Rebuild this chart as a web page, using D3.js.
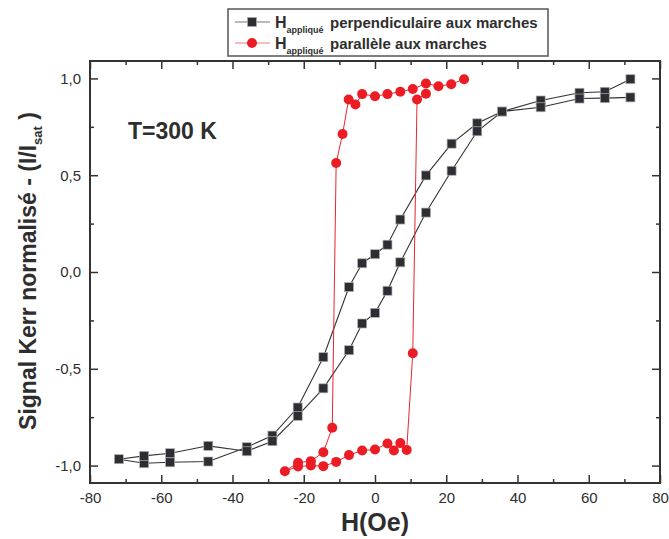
<!DOCTYPE html>
<html>
<head>
<meta charset="utf-8">
<script src="https://cdn.jsdelivr.net/npm/d3@7"></script>
<style>
  html, body { margin: 0; padding: 0; background: #fff; }
  svg { display: block; }
  text { font-family: "Liberation Sans", Arial, sans-serif; fill: #2e2e2e; }
</style>
</head>
<body>
<svg id="chart" width="669" height="539"></svg>
<script>
// ---- data ----
const perpH = [71.7, 64.5, 57.4, 46.5, 35.7, 28.7, 21.5, 14.3, 7.1, 3.5, 0, -3.6, -7.3, -14.5, -21.7, -28.8, -36.0, -46.8, -57.5, -64.8, -71.9,
               -64.8, -57.5, -46.8, -36.0, -28.8, -21.7, -14.5, -7.3, -3.6, 0, 3.5, 7.1, 14.3, 21.5, 28.7, 35.7, 46.5, 57.4, 64.5, 71.7];
const perpV = [0.996, 0.931, 0.926, 0.886, 0.829, 0.768, 0.663, 0.499, 0.271, 0.141, 0.092, 0.045, -0.078, -0.440, -0.700, -0.845, -0.905, -0.979, -0.983, -0.988, -0.967,
               -0.950, -0.936, -0.898, -0.926, -0.874, -0.743, -0.601, -0.404, -0.266, -0.211, -0.097, 0.050, 0.307, 0.523, 0.727, 0.829, 0.851, 0.896, 0.898, 0.902];

const paraH = [25.0, 21.4, 17.8, 14.3, 10.6, 7.1, 3.5, 0, -3.6, -5.5, -7.4, -9.1, -10.9, -12.0, -14.5, -18.0, -21.6, -25.3,
               -21.6, -18.0, -14.5, -10.9, -7.3, -3.6, 0, 3.5, 5.3, 7.1, 8.9, 10.6, 11.8, 14.3];
const paraV = [0.996, 0.970, 0.960, 0.974, 0.945, 0.931, 0.919, 0.908, 0.919, 0.865, 0.891, 0.713, 0.563, -0.805, -0.931, -0.977, -0.985, -1.029,
               -1.005, -1.000, -1.003, -0.981, -0.946, -0.922, -0.917, -0.886, -0.922, -0.884, -0.919, -0.420, 0.891, 0.921];

const xMajor = [-80, -60, -40, -20, 0, 20, 40, 60, 80];
const xMinor = [-70, -50, -30, -10, 10, 30, 50, 70];
const yMajor = [-1.0, -0.5, 0.0, 0.5, 1.0];
const yMinor = [-0.75, -0.25, 0.25, 0.75];

const seriesNames = ["perpendiculaire aux marches", "parallèle aux marches"];
const subLabel = "appliqué";
const annotation = "T=300 K";
const xTitle = "H(Oe)";

// ---- layout ----
const svg = d3.select("#chart");
const L = 90, R = 660, T = 61, B = 483;
const x = d3.scaleLinear().domain([-80, 80]).range([L, R]);
const y = d3.scaleLinear().domain([-1.09, 1.09]).range([B, T]);
const axisColor = "#333";
const fmtY = d => d.toFixed(1).replace(".", ",");
const fmtX = d => String(d);

function styleAxis(g) {
  g.select(".domain").remove();
  g.selectAll("line").attr("stroke", axisColor).attr("stroke-width", 1.5);
  g.selectAll("text").style("font-size", "15px").attr("fill", "#333");
}

// bottom
svg.append("g").attr("transform", `translate(0,${B})`)
  .call(d3.axisBottom(x).tickValues(xMajor).tickSize(-8).tickPadding(9).tickFormat(fmtX))
  .call(styleAxis);
svg.append("g").attr("transform", `translate(0,${B})`)
  .call(d3.axisBottom(x).tickValues(xMinor).tickSize(-4).tickFormat(""))
  .call(styleAxis);
// top
svg.append("g").attr("transform", `translate(0,${T})`)
  .call(d3.axisTop(x).tickValues(xMajor).tickSize(-8).tickFormat(""))
  .call(styleAxis);
svg.append("g").attr("transform", `translate(0,${T})`)
  .call(d3.axisTop(x).tickValues(xMinor).tickSize(-4).tickFormat(""))
  .call(styleAxis);
// left
svg.append("g").attr("transform", `translate(${L},0)`)
  .call(d3.axisLeft(y).tickValues(yMajor).tickSize(-8).tickPadding(9).tickFormat(fmtY))
  .call(styleAxis);
svg.append("g").attr("transform", `translate(${L},0)`)
  .call(d3.axisLeft(y).tickValues(yMinor).tickSize(-4).tickFormat(""))
  .call(styleAxis);
// right
svg.append("g").attr("transform", `translate(${R},0)`)
  .call(d3.axisRight(y).tickValues(yMajor).tickSize(-8).tickFormat(""))
  .call(styleAxis);
svg.append("g").attr("transform", `translate(${R},0)`)
  .call(d3.axisRight(y).tickValues(yMinor).tickSize(-4).tickFormat(""))
  .call(styleAxis);

// frame
svg.append("rect").attr("x", L).attr("y", T).attr("width", R - L).attr("height", B - T)
  .attr("fill", "none").attr("stroke", axisColor).attr("stroke-width", 2);

// ---- series ----
const perp = perpH.map((h, i) => [h, perpV[i]]);
const para = paraH.map((h, i) => [h, paraV[i]]);
const line = d3.line().x(d => x(d[0])).y(d => y(d[1]));

svg.append("path").datum(perp).attr("d", line)
  .attr("fill", "none").attr("stroke", "#333").attr("stroke-width", 1.1);
svg.append("path").datum(para).attr("d", line)
  .attr("fill", "none").attr("stroke", "#e8262e").attr("stroke-width", 1);

const sq = 9;
svg.append("g").selectAll("rect").data(perp).join("rect")
  .attr("x", d => x(d[0]) - sq / 2).attr("y", d => y(d[1]) - sq / 2)
  .attr("width", sq).attr("height", sq)
  .attr("fill", "#2d2d33").attr("stroke", "#b0b0b0").attr("stroke-width", 0.7);

svg.append("g").selectAll("circle").data(para).join("circle")
  .attr("cx", d => x(d[0])).attr("cy", d => y(d[1])).attr("r", 5)
  .attr("fill", "#ec1c24");

// ---- annotation ----
svg.append("text").attr("x", 128).attr("y", 139)
  .style("font-size", "23px").style("font-weight", "bold").text(annotation);

// ---- axis titles ----
svg.append("text").attr("x", (L + R) / 2).attr("y", 531).attr("text-anchor", "middle")
  .style("font-size", "25px").style("font-weight", "bold").text(xTitle);

const yt = svg.append("text").attr("transform", "translate(36,271) rotate(-90)")
  .attr("text-anchor", "middle").style("font-size", "23px").style("font-weight", "bold");
yt.append("tspan").text("Signal Kerr normalisé - (I/I");
yt.append("tspan").attr("dy", 6).style("font-size", "13px").text("sat");
yt.append("tspan").attr("dy", -6).text(" )");

// ---- legend ----
const lg = svg.append("g");
lg.append("rect").attr("x", 228).attr("y", 9).attr("width", 320).attr("height", 47)
  .attr("fill", "#fff").attr("stroke", "#555").attr("stroke-width", 1.5);
const rows = [
  { yy: 22, color: "#777", name: seriesNames[0], type: "sq" },
  { yy: 43, color: "#f07a7e", name: seriesNames[1], type: "ci" }
];
rows.forEach(r => {
  lg.append("line").attr("x1", 235).attr("x2", 270).attr("y1", r.yy).attr("y2", r.yy)
    .attr("stroke", r.color).attr("stroke-width", 1.2);
  if (r.type === "sq") {
    lg.append("rect").attr("x", 252 - sq / 2).attr("y", r.yy - sq / 2).attr("width", sq).attr("height", sq)
      .attr("fill", "#2d2d33").attr("stroke", "#b0b0b0").attr("stroke-width", 0.7);
  } else {
    lg.append("circle").attr("cx", 252).attr("cy", r.yy).attr("r", 5).attr("fill", "#ec1c24");
  }
  const t = lg.append("text").attr("x", 275).attr("y", r.yy + 5.5)
    .style("font-size", "16px").style("font-weight", "bold");
  t.append("tspan").text("H");
  t.append("tspan").attr("dy", 5).style("font-size", "9px").text(subLabel);
  t.append("tspan").attr("x", 330).attr("dy", -5).style("font-size", "15px").text(r.name);
});
</script>
</body>
</html>
